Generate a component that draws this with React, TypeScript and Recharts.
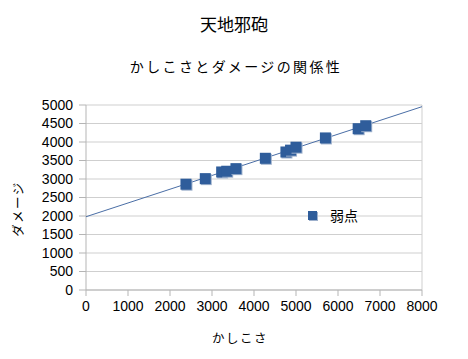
import React from 'react';
import { ScatterChart, Scatter, XAxis, YAxis, CartesianGrid, ReferenceLine } from 'recharts';

const chartTitle = '天地邪砲';
const chartSubtitle = 'かしこさとダメージの関係性';
const xLabel = 'かしこさ';
const yLabel = 'ダメージ';
const seriesName = '弱点';

const kashikosa = [2380, 2840, 3230, 3350, 3570, 4270, 4760, 4870, 5000, 5700, 6480, 6660];
const damage = [2860, 3010, 3190, 3210, 3280, 3560, 3730, 3780, 3860, 4110, 4360, 4440];

const trendX = [0, 8000];
const trendY = [1980, 4955];

const xTicks = [0, 1000, 2000, 3000, 4000, 5000, 6000, 7000, 8000];
const yTicks = [0, 500, 1000, 1500, 2000, 2500, 3000, 3500, 4000, 4500, 5000];

const points = kashikosa.map((x, i) => ({ x, y: damage[i] }));
const trend = trendX.map((x, i) => ({ x, y: trendY[i] }));

const BLUE = '#2f5d9b';
const JP = '"Noto Sans CJK JP", "Noto Sans", sans-serif';
const NUM = '"Liberation Sans", Arial, sans-serif';

const SquareShape = (props: any) => {
  const { cx, cy } = props;
  if (cx == null || cy == null) return <g />;
  const s = 11;
  return (
    <g>
      <rect x={cx - s / 2 + 1} y={cy - s / 2 + 1} width={s} height={s} fill="#9db0cc" />
      <rect x={cx - s / 2} y={cy - s / 2} width={s} height={s} fill={BLUE} />
    </g>
  );
};

const NoShape = () => <g />;

export default function App() {
  return (
    <div style={{ position: 'absolute', left: 0, top: 0, width: 468, height: 359, background: '#fff' }}>
      <div style={{ position: 'absolute', left: 0, width: 468, top: 12, textAlign: 'center', fontFamily: JP, fontSize: 17, color: '#000', lineHeight: '24px' }}>
        {chartTitle}
      </div>
      <div style={{ position: 'absolute', left: 0, width: 468, top: 56, textAlign: 'center', fontFamily: JP, fontSize: 14, letterSpacing: 2.4, color: '#000', lineHeight: '20px', paddingLeft: 2 }}>
        {chartSubtitle}
      </div>
      <div style={{ position: 'absolute', left: 0, width: 480, top: 329, textAlign: 'center', fontFamily: JP, fontSize: 12.5, letterSpacing: 1.5, color: '#000', lineHeight: '18px' }}>
        {xLabel}
      </div>
      <div style={{ position: 'absolute', left: 18, top: 209, width: 0, height: 0 }}>
        <div style={{ position: 'absolute', left: -40, top: -9, width: 80, textAlign: 'center', transform: 'rotate(-90deg)', fontFamily: JP, fontSize: 12.5, letterSpacing: 1.5, color: '#000', lineHeight: '18px' }}>
          {yLabel}
        </div>
      </div>
      <ScatterChart width={468} height={359} margin={{ top: 105, right: 46, bottom: 39, left: 40 }}>
        <CartesianGrid horizontal vertical={false} stroke="#cfcfcf" strokeWidth={1} />
        <XAxis
          type="number"
          dataKey="x"
          domain={[0, 8000]}
          ticks={xTicks}
          interval={0}
          height={30}
          stroke="#b5b5b5"
          tickLine={{ stroke: '#b5b5b5' }}
          tickSize={6}
          tickMargin={5}
          tick={{ fill: '#000', fontSize: 14, fontFamily: NUM }}
        />
        <YAxis
          type="number"
          dataKey="y"
          domain={[0, 5000]}
          ticks={yTicks}
          interval={0}
          width={46}
          stroke="#b5b5b5"
          tickLine={{ stroke: '#b5b5b5' }}
          tickSize={7}
          tickMargin={6}
          tick={{ fill: '#000', fontSize: 14, fontFamily: NUM }}
        />
        <ReferenceLine x={8000} stroke="#cfcfcf" />
        <Scatter
          name="trend"
          data={trend}
          line={{ stroke: '#4a6ea6', strokeWidth: 1 }}
          shape={NoShape}
          legendType="none"
          isAnimationActive={false}
        />
        <Scatter name={seriesName} data={points} shape={SquareShape} fill={BLUE} isAnimationActive={false} />
      </ScatterChart>
      <div style={{ position: 'absolute', left: 308, top: 205, display: 'flex', alignItems: 'center', fontFamily: JP, fontSize: 14, color: '#000', lineHeight: '20px' }}>
        <div style={{ width: 9, height: 9, background: BLUE, boxShadow: '1px 1px 0 #9db0cc', marginRight: 13 }} />
        <span>{seriesName}</span>
      </div>
    </div>
  );
}
